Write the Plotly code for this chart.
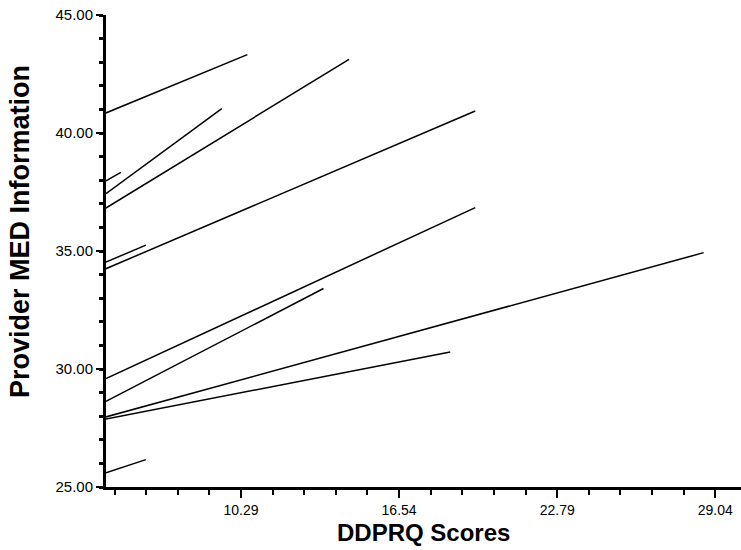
import plotly.graph_objects as go

# Fitted line segments (DDPRQ score -> Provider MED Information)
x_start = [4.95, 4.95, 4.95, 4.95, 4.95, 4.95, 4.95, 4.95, 4.95, 4.95, 4.95]
x_end   = [10.54, 9.53, 14.56, 5.54, 19.55, 6.53, 19.55, 13.55, 28.58, 18.56, 6.53]
y_start = [40.85, 37.43, 36.82, 37.97, 34.25, 34.53, 29.59, 28.63, 27.97, 27.88, 25.60]
y_end   = [43.32, 41.03, 43.12, 38.33, 40.93, 35.25, 36.84, 33.41, 34.93, 30.72, 26.16]

x_tick_vals = [10.29, 16.54, 22.79, 29.04]
x_tick_text = ["10.29", "16.54", "22.79", "29.04"]
y_tick_vals = [25, 30, 35, 40, 45]
y_tick_text = ["25.00", "30.00", "35.00", "40.00", "45.00"]

FONT = "Liberation Sans, Arial, sans-serif"

fig = go.Figure()
for xs, xe, ys, ye in zip(x_start, x_end, y_start, y_end):
    fig.add_trace(go.Scatter(x=[xs, xe], y=[ys, ye], mode="lines",
                             line=dict(color="black", width=1.5),
                             showlegend=False, hoverinfo="skip"))

fig.update_layout(
    width=741, height=550,
    margin=dict(l=106, r=0, t=15, b=63),
    paper_bgcolor="white", plot_bgcolor="white",
    font=dict(family=FONT, size=14, color="black"),
    xaxis=dict(range=[4.953, 30.056], showgrid=False, zeroline=False,
               showline=True, linecolor="black", linewidth=2.5,
               tickmode="array", tickvals=x_tick_vals, ticktext=x_tick_text,
               ticks="outside", ticklen=8, tickwidth=2, tickcolor="black",
               minor=dict(tickmode="linear", tick0=5.29, dtick=1.25,
                          ticks="outside", ticklen=5, tickwidth=2, tickcolor="black"),
               tickfont=dict(family=FONT, size=14, color="black")),
    yaxis=dict(range=[25, 45], showgrid=False, zeroline=False,
               showline=True, linecolor="black", linewidth=3,
               tickmode="array", tickvals=y_tick_vals, ticktext=y_tick_text,
               ticks="outside", ticklen=7, tickwidth=2, tickcolor="black",
               minor=dict(tickmode="linear", tick0=25, dtick=1,
                          ticks="outside", ticklen=4, tickwidth=3, tickcolor="black"),
               tickfont=dict(family=FONT, size=15, color="black")),
    annotations=[
        dict(text="<b>DDPRQ Scores</b>", xref="paper", yref="paper",
             x=0.5, y=-45/472, xanchor="center", yanchor="middle",
             showarrow=False, font=dict(family=FONT, size=24, color="black")),
        dict(text="<b>Provider MED Information</b>", xref="paper", yref="paper",
             x=-86/635, y=(487-232)/472, xanchor="center", yanchor="middle", textangle=-90,
             showarrow=False, font=dict(family=FONT, size=27, color="black")),
    ],
)

fig.write_html("out.html")
